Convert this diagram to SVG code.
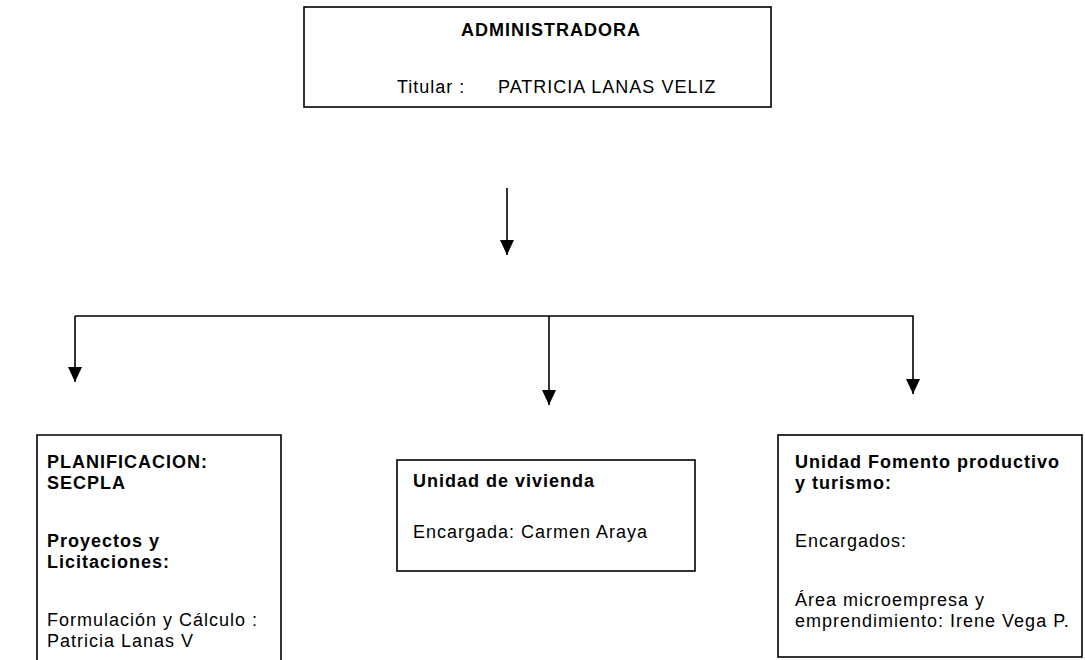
<svg xmlns="http://www.w3.org/2000/svg" width="1085" height="660" viewBox="0 0 1085 660">
<style>
.box{fill:#fff;stroke:#000;stroke-width:1.6}
.t{font-family:"Liberation Sans",Arial,sans-serif;font-size:18px;fill:#000;letter-spacing:1px}
.b{font-weight:bold}
.c{fill:none;stroke:#000;stroke-width:1.6}
</style>
<defs>
<marker id="ah" markerUnits="userSpaceOnUse" markerWidth="15" markerHeight="14" refX="15" refY="7" orient="auto" viewBox="0 0 15 14">
<path d="M0,0 L15,7 L0,14 Z" fill="#000"/>
</marker>
</defs>
<rect width="1085" height="660" fill="#fff"/>
<g id="connectors">
<line class="c" x1="507" y1="188" x2="507" y2="255" marker-end="url(#ah)"/>
<polyline class="c" points="75,316 913,316 913,394" marker-end="url(#ah)"/>
<line class="c" x1="75" y1="316" x2="75" y2="382" marker-end="url(#ah)"/>
<line class="c" x1="549" y1="316" x2="549" y2="405" marker-end="url(#ah)"/>
</g>
<g id="admin">
<rect class="box" x="304" y="7" width="467" height="100"/>
<text class="t b" x="461" y="36">ADMINISTRADORA</text>
<text class="t" x="397" y="93">Titular :</text>
<text class="t" x="498" y="93">PATRICIA LANAS VELIZ</text>
</g>
<g id="planificacion">
<path class="c" d="M37,670 L37,435 L281,435 L281,670"/>
<text class="t b" x="47" y="468">PLANIFICACION:</text>
<text class="t b" x="47" y="489">SECPLA</text>
<text class="t b" x="47" y="547">Proyectos y</text>
<text class="t b" x="47" y="568">Licitaciones:</text>
<text class="t" x="47" y="626">Formulación y Cálculo :</text>
<text class="t" x="47" y="647">Patricia Lanas V</text>
</g>
<g id="vivienda">
<rect class="box" x="397" y="460" width="298" height="111"/>
<text class="t b" x="413" y="487">Unidad de vivienda</text>
<text class="t" x="413" y="538">Encargada: Carmen Araya</text>
</g>
<g id="fomento">
<rect class="box" x="778" y="435" width="304" height="222"/>
<text class="t b" x="795" y="468">Unidad Fomento productivo</text>
<text class="t b" x="795" y="489">y turismo:</text>
<text class="t" x="795" y="547">Encargados:</text>
<text class="t" x="795" y="606">Área microempresa y</text>
<text class="t" x="795" y="627">emprendimiento: Irene Vega P.</text>
</g>
</svg>
